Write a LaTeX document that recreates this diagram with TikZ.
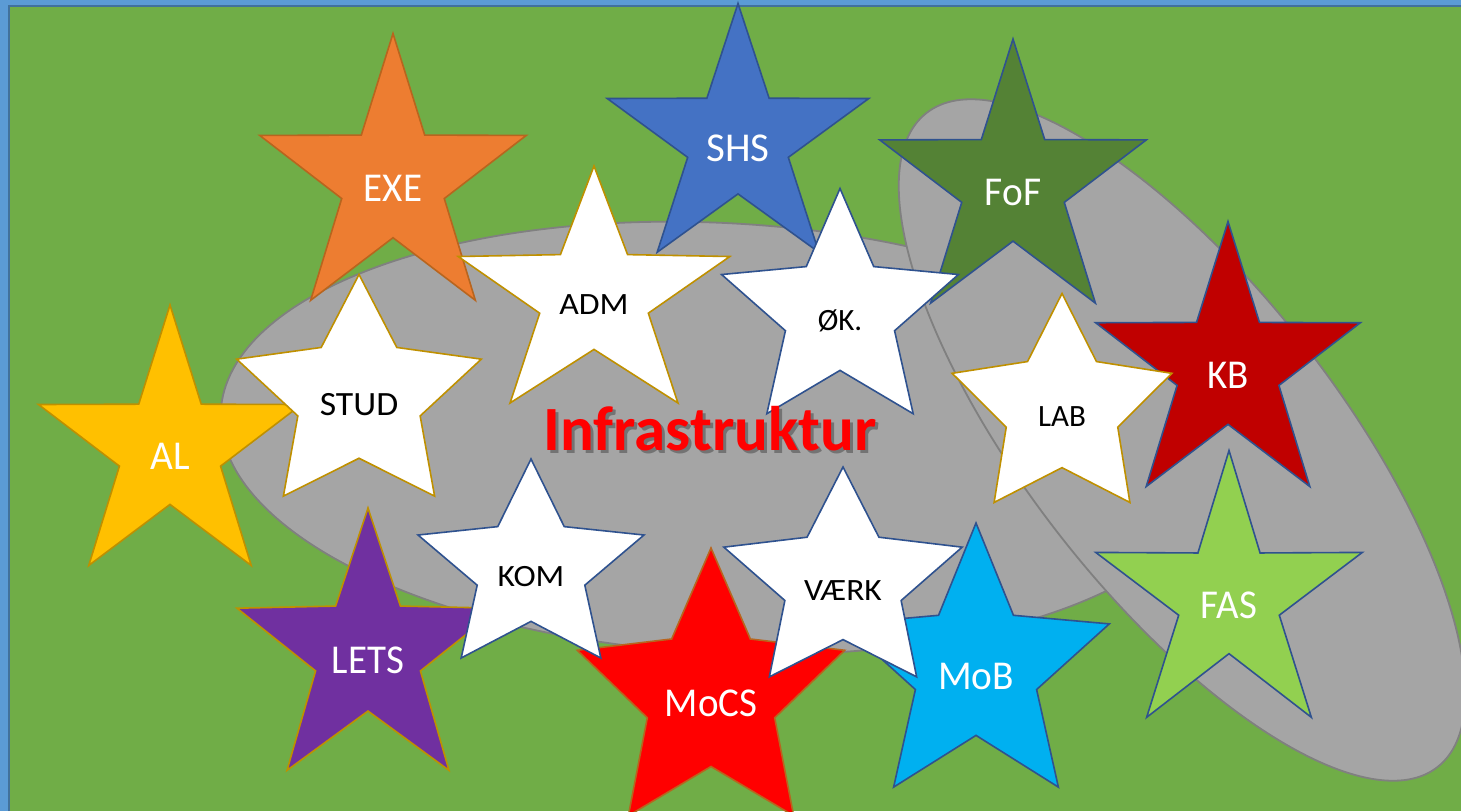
\documentclass[tikz,border=0pt]{standalone}
\usepackage{fontspec}
\setmainfont{Carlito}
\usetikzlibrary{shapes.geometric}

\definecolor{frameblue}{HTML}{5B9BD5}
\definecolor{framedark}{HTML}{41719C}
\definecolor{lawn}{HTML}{70AD47}
\definecolor{stone}{HTML}{A5A5A5}
\definecolor{stoneline}{HTML}{808080}
\definecolor{goldline}{HTML}{BF9000}
\definecolor{blueline}{HTML}{2F528F}
\definecolor{rustline}{HTML}{B8651E}
\definecolor{exeorange}{HTML}{ED7D31}
\definecolor{shsblue}{HTML}{4472C4}
\definecolor{fofgreen}{HTML}{548235}
\definecolor{alyellow}{HTML}{FFC000}
\definecolor{kbred}{HTML}{C00000}
\definecolor{faslime}{HTML}{92D050}
\definecolor{letspurple}{HTML}{7030A0}
\definecolor{mocsred}{HTML}{FF0000}
\definecolor{mobcyan}{HTML}{00B0F0}

\tikzset{
  fivestar/.style={star, star points=5, inner sep=0pt, line width=1.6pt, text depth=0pt},
  unitstar/.style={fivestar, fill=white, text=black, font=\fontsize{31}{31}\selectfont, text height=34pt},
  groupstar/.style={fivestar, text=white, font=\fontsize{41}{41}\selectfont, text height=40pt},
  infratext/.style={font=\bfseries\fontsize{63}{63}\selectfont, anchor=base}
}

\begin{document}
\begin{tikzpicture}[x=1pt,y=-1pt]
\useasboundingbox (0,0) rectangle (1461,811);
\clip (0,0) rectangle (1461,811);

% frame and lawn
\fill[frameblue] (0,0) rectangle (1461,811);
\fill[lawn] (10,7) rectangle (1461,811);
\draw[framedark,line width=2.5pt] (9,811) -- (9,6) -- (1461,6);

% the two grey fields
\draw[fill=stone,draw=stoneline,line width=1.8pt,rotate around={-3:(720,438)}] (720,438) ellipse [x radius=500pt, y radius=215pt];
\draw[fill=stone,draw=stoneline,line width=1.8pt,rotate around={-52:(1182,440)}] (1182,440) ellipse [x radius=415pt, y radius=155pt];

% coloured stars
\node[groupstar,fill=exeorange,draw=rustline,minimum size=295pt,star point ratio=2.6,xscale=0.95](EXE) at (393,181){EXE};
\node[groupstar,fill=shsblue,draw=blueline,minimum size=275pt,star point ratio=2.6](SHS) at (738,141){SHS};
\node[groupstar,fill=fofgreen,draw=blueline,minimum size=292pt,star point ratio=2.6,xscale=0.96](FoF) at (1013,185){FoF};
\node[groupstar,fill=alyellow,draw=goldline,minimum size=288pt,star point ratio=2.6,xscale=0.96](AL) at (170,449){AL};
\node[groupstar,fill=kbred,draw=blueline,minimum size=293pt,star point ratio=2.6,xscale=0.95](KB) at (1228,368){KB};
\node[groupstar,fill=faslime,draw=blueline,minimum size=295pt,star point ratio=2.65,xscale=0.95](FAS) at (1229,598){FAS};
\node[groupstar,fill=letspurple,draw=goldline,minimum size=290pt,star point ratio=2.5,xscale=0.95](LETS) at (368,653){LETS};
\node[groupstar,fill=mocsred,draw=rustline,minimum size=296pt,star point ratio=2.1,xscale=0.95](MoCS) at (711,696){MoCS};
\node[groupstar,fill=mobcyan,draw=blueline,minimum size=292pt,star point ratio=2.2,xscale=0.96](MoB) at (976,669){MoB};

% white stars
\node[unitstar,draw=goldline,minimum size=262pt,star point ratio=2.5,xscale=1.09](ADM) at (594,297){ADM};
\node[unitstar,draw=blueline,minimum size=249pt,star point ratio=2.17](OEK) at (840,313){ØK.};
\node[unitstar,draw=goldline,minimum size=245pt,star point ratio=2.0,xscale=1.05,font=\fontsize{34}{34}\selectfont,text height=37pt](STUD) at (359,397){STUD};
\node[unitstar,draw=goldline,minimum size=231pt,star point ratio=1.97](LAB) at (1062,409){LAB};
\node[unitstar,draw=blueline,minimum size=220pt,star point ratio=2.1,xscale=1.08](KOM) at (531,569){KOM};
\node[unitstar,draw=blueline,minimum size=232pt,star point ratio=2.05,xscale=1.08](VAERK) at (843,583){VÆRK};

% title
\node[infratext,text=black,text opacity=0.3](infrashadow) at (713,453){Infrastruktur};
\node[infratext,text=mocsred](infra) at (710,450){Infrastruktur};
\end{tikzpicture}
\end{document}
